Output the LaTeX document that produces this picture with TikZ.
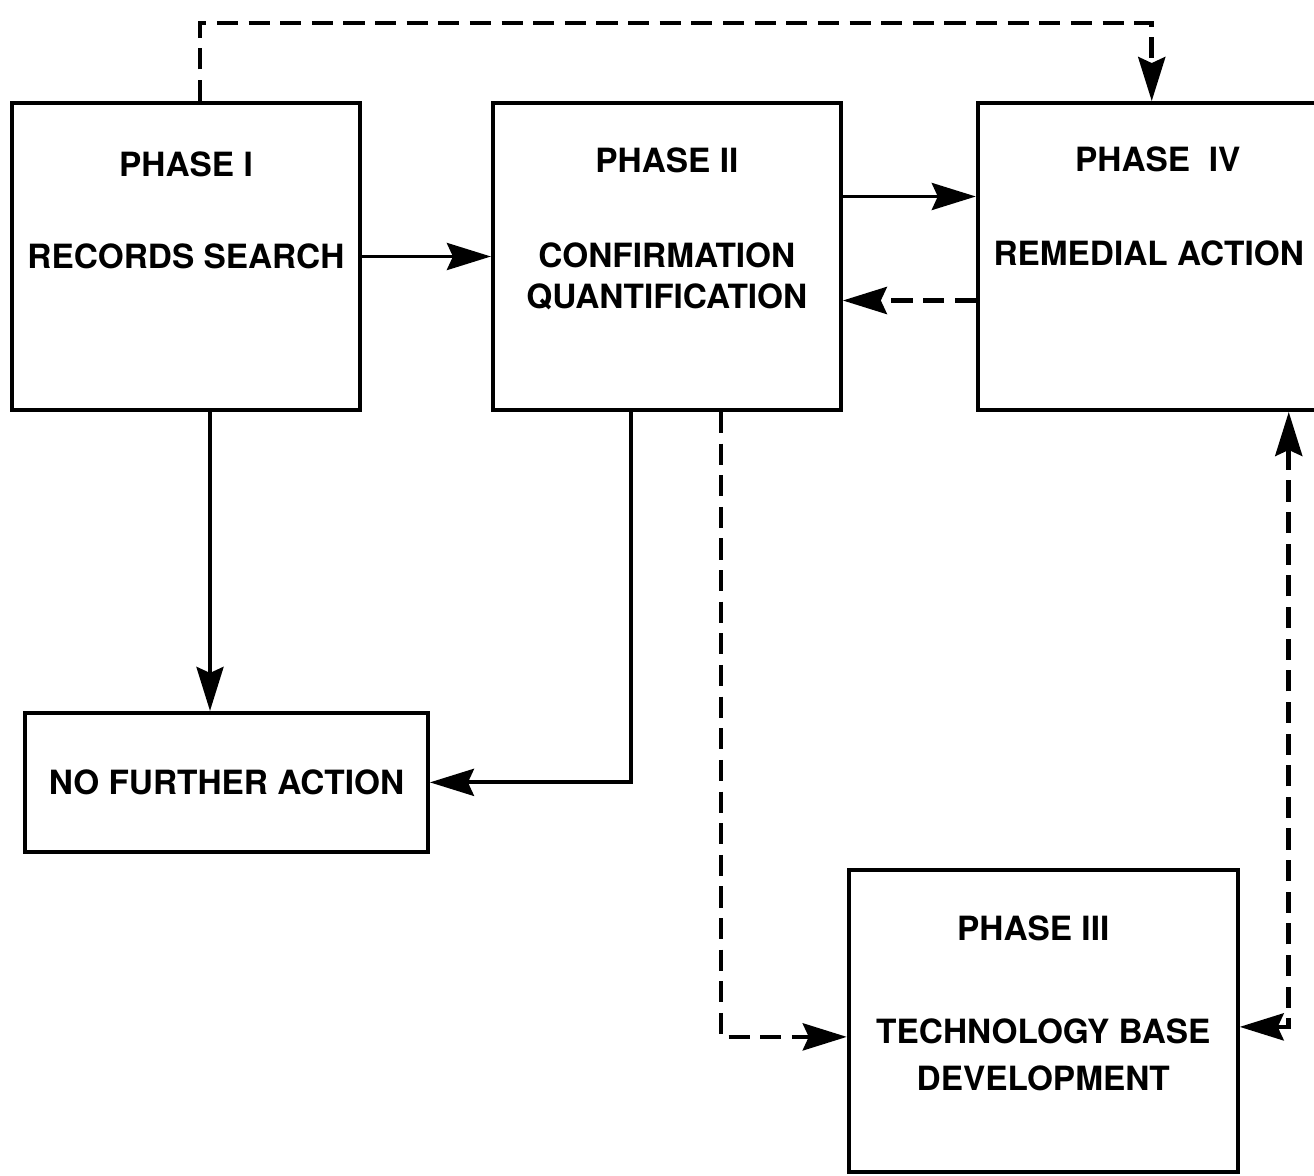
\documentclass[tikz,border=0pt]{standalone}
\usepackage{fontspec}
\setmainfont{TeX Gyre Heros}
\usetikzlibrary{arrows.meta,positioning}
\tikzset{
  flowarrow/.style={->, line width=1.1pt},
  linkarrow/.style={->, line width=1.3pt, dash pattern=on 6pt off 3pt},
  phasebox/.style={draw, line width=1.1pt, inner sep=0pt,
    minimum width=34.8mm, minimum height=30.7mm},
  phasetag/.style={font=\bfseries\fontsize{9.5}{11.5}\selectfont, inner sep=1pt},
  boxtext/.style={font=\bfseries\fontsize{9.5}{11.5}\selectfont, align=center, inner sep=1pt}
}

\begin{document}
\begin{tikzpicture}[>={Stealth[length=4.4mm,width=2.7mm,inset=0.6mm]}]
  \clip (0,0) rectangle (13.14,-11.75);

  % top row of phases
  \node[phasebox] (p1) at (1.86,-2.565) {};
  \node[phasebox, right=12.9mm of p1] (p2) {};
  \node[phasebox, right=13.3mm of p2] (p4) {};
  % lower boxes
  \node[phasebox, below=29.9mm of p1.south west, anchor=north west, xshift=1.3mm,
    minimum width=40.3mm, minimum height=13.9mm] (nfa) {};
  \node[phasebox, below=45.6mm of p4.south west, anchor=north west, xshift=-12.9mm,
    minimum width=38.9mm, minimum height=30.2mm] (p3) {};

  \node[phasetag] (t1) at ([yshift=-6.3mm]p1.north) {PHASE I};
  \node[boxtext] (n1) at (p1.center) {RECORDS\ SEARCH};
  \node[phasetag] (t2) at ([yshift=-5.9mm]p2.north) {PHASE II};
  \node[boxtext] (n2) at ([yshift=-2mm]p2.center) {CONFIRMATION\\QUANTIFICATION};
  \node[phasetag] (t4) at ([xshift=0.6mm,yshift=-5.8mm]p4.north) {PHASE\ \ IV};
  \node[boxtext] (n4) at ([xshift=-0.3mm,yshift=0.3mm]p4.center) {REMEDIAL ACTION};
  \node[boxtext] (n5) at (nfa.center) {NO FURTHER ACTION};
  \node[phasetag] (t3) at ([xshift=-1mm,yshift=-6mm]p3.north) {PHASE III};
  \node[boxtext] (n3) at ([yshift=-3.4mm]p3.center) {TECHNOLOGY\ BASE\\[2pt]DEVELOPMENT};

  % main flow
  \draw[flowarrow] (p1) -- (p2);
  \draw[flowarrow] ([yshift=6mm]p2.east) -- ([yshift=6mm]p4.west);
  \draw[flowarrow] ([xshift=2.4mm]p1.south) -- ([xshift=2.4mm]p1.south |- nfa.north);
  \draw[flowarrow] ([xshift=-3.6mm]p2.south) |- (nfa.east);

  % feedback links
  \draw[linkarrow] ([yshift=-4.4mm]p4.west) -- ([yshift=-4.4mm]p2.east);
  \draw[linkarrow] ([xshift=1.4mm]p1.north) -- ++(0,7.8mm) -| (p4.north);
  \draw[linkarrow] ([xshift=5.4mm]p2.south) |- ([yshift=-1.6mm]p3.west);
  \draw[linkarrow, <->] ([yshift=-0.6mm]p3.east) -| ([xshift=13.7mm]p4.south);
\end{tikzpicture}
\end{document}
